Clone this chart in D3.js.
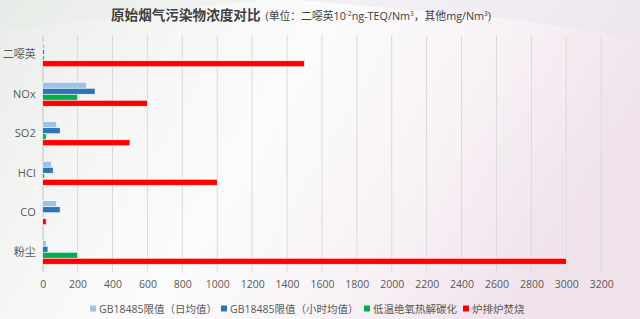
<!DOCTYPE html>
<html>
<head>
<meta charset="utf-8">
<script src="https://cdn.jsdelivr.net/npm/d3@7/dist/d3.min.js"></script>
<style>
  html, body { margin: 0; padding: 0; }
  body { width: 640px; height: 319px; overflow: hidden; }
  svg text { font-family: "Open Sans", "Noto Sans CJK SC", sans-serif; }
</style>
</head>
<body>
<svg id="chart" width="640" height="319"></svg>
<script>
// Pollutant categories, top to bottom
const categories = ["二噁英", "NOx", "SO2", "HCl", "CO", "粉尘"];
// Series names (legend order)
const seriesNames = ["GB18485限值（日均值）", "GB18485限值（小时均值）", "低温绝氧热解碳化", "炉排炉焚烧"];
// Values per series, same order as categories
const dailyLimit  = [10, 250, 80, 50, 80, 20];
const hourlyLimit = [10, 300, 100, 60, 100, 30];
const pyrolysis   = [8, 200, 20, 10, 4, 200];
const grateFurnace = [1500, 600, 500, 1000, 20, 3000];
const xTicks = [0, 200, 400, 600, 800, 1000, 1200, 1400, 1600, 1800, 2000, 2200, 2400, 2600, 2800, 3000, 3200];

const seriesValues = [dailyLimit, hourlyLimit, pyrolysis, grateFurnace];
const colors = ["#9dc3e6", "#2e75b6", "#00b050", "#ff0000"];

const svg = d3.select("#chart");

// Soft background wash
const defs = svg.append("defs");
const bg = defs.append("linearGradient").attr("id", "bg").attr("x1", "0").attr("y1", "0").attr("x2", "1").attr("y2", "0.3");
[["0%", "#e9ece8"], ["22%", "#f4f5f3"], ["48%", "#fbfbfc"], ["75%", "#f8f2f6"], ["100%", "#f0e3ec"]]
  .forEach(([o, c]) => bg.append("stop").attr("offset", o).attr("stop-color", c));
svg.append("rect").attr("width", 640).attr("height", 319).attr("fill", "url(#bg)");
svg.append("path").attr("d", "M300,0 L640,0 L640,40 L520,20 Z").attr("fill", "#e9e6ee").attr("opacity", 0.5);
svg.append("path").attr("d", "M0,0 L260,0 L0,30 Z").attr("fill", "#e6ebe6").attr("opacity", 0.4);

const plot = { left: 42.7, right: 601.2, top: 35, bottom: 272 };

const x = d3.scaleLinear().domain([0, 3200]).range([plot.left, plot.right]);
const y = d3.scaleBand().domain(categories).range([plot.top, plot.bottom]);
const barH = 6;
const groupH = barH * seriesNames.length;
const yInner = d3.scaleBand().domain(d3.range(seriesNames.length))
  .range([(y.bandwidth() - groupH) / 2, (y.bandwidth() + groupH) / 2]);

// Vertical gridlines
svg.append("g").selectAll("line").data(xTicks).join("line")
  .attr("x1", d => x(d)).attr("x2", d => x(d))
  .attr("y1", plot.top).attr("y2", plot.bottom)
  .attr("stroke", "#dadada").attr("stroke-width", 1);

// Bottom axis: labels only
const xAxis = svg.append("g").attr("transform", `translate(0,${plot.bottom})`)
  .call(d3.axisBottom(x).tickValues(xTicks).tickFormat(d3.format("d")).tickSize(0).tickPadding(8.5));
xAxis.select(".domain").remove();
xAxis.selectAll("text").attr("fill", "#595959").attr("font-size", 10.5);

// Left axis
const yAxis = svg.append("g").attr("transform", `translate(${plot.left},0)`)
  .call(d3.axisLeft(y).tickSize(0).tickPadding(7));
yAxis.select(".domain").attr("stroke", "#d0d0d0");
yAxis.selectAll("text").attr("fill", "#595959").attr("font-size", 11);

// Bars
const groups = svg.append("g").selectAll("g").data(categories).join("g")
  .attr("transform", c => `translate(0,${y(c)})`);
groups.selectAll("rect")
  .data((c, ci) => seriesValues.map((vals, si) => ({ si, v: vals[ci] })))
  .join("rect")
  .attr("x", x(0))
  .attr("y", d => yInner(d.si))
  .attr("width", d => x(d.v) - x(0))
  .attr("height", yInner.bandwidth())
  .attr("fill", d => colors[d.si])
  .attr("stroke", "#ffffff").attr("stroke-width", 0.6);

// Title
const title = svg.append("text").attr("x", 111).attr("y", 20).attr("fill", "#404040");
title.append("tspan").attr("font-size", 13.6).attr("font-weight", "bold").text("原始烟气污染物浓度对比");
const sub = title.append("tspan").attr("font-size", 10.8).attr("dx", 5);
sub.append("tspan").text("(单位：二噁英10");
sub.append("tspan").attr("font-size", 6.5).attr("dy", -4).text("-2");
sub.append("tspan").attr("dy", 4).text("ng-TEQ/Nm");
sub.append("tspan").attr("font-size", 6.5).attr("dy", -4).text("3");
sub.append("tspan").attr("dy", 4).text("，其他mg/Nm");
sub.append("tspan").attr("font-size", 6.5).attr("dy", -4).text("3");
sub.append("tspan").attr("dy", 4).text(")");

// Legend
const legendX = [90, 221, 364, 463];
const legend = svg.append("g").selectAll("g").data(seriesNames).join("g")
  .attr("transform", (d, i) => `translate(${legendX[i]},309)`);
legend.append("rect").attr("x", 0).attr("y", -3.5).attr("width", 6).attr("height", 6)
  .attr("fill", (d, i) => colors[i]);
legend.append("text").attr("x", 9).attr("y", 0).attr("dy", "0.35em")
  .attr("font-size", 10.5).attr("fill", "#595959").text(d => d);
</script>
</body>
</html>
